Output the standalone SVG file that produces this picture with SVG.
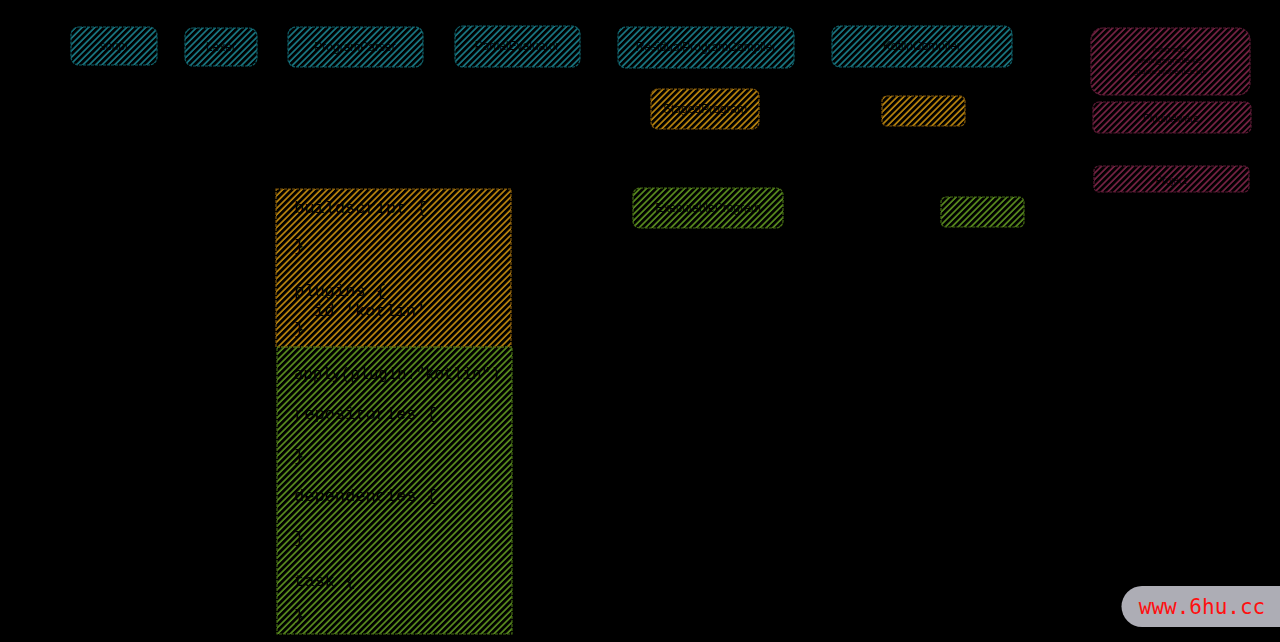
<svg xmlns="http://www.w3.org/2000/svg" width="1280" height="642" viewBox="0 0 1280 642">
<style>
.lbl{font-family:"Liberation Sans",Arial,sans-serif;font-size:12px;fill:#000;text-anchor:middle;dominant-baseline:central}
.code{font-family:"Liberation Mono","DejaVu Sans Mono",monospace;font-size:17px;fill:#000}
.teal{fill:url(#hTeal);stroke:#0f5f68;stroke-width:1.2;stroke-dasharray:3 1}
.orange{fill:url(#hOrange);stroke:#80570a;stroke-width:1.2;stroke-dasharray:3 1}
.green{fill:url(#hGreen);stroke:#446a14;stroke-width:1.2;stroke-dasharray:3 1}
.mag{fill:url(#hMag);stroke:#5a1a34;stroke-width:1.2;stroke-dasharray:3 1}
</style>
<defs>
<pattern id="hTeal" width="4.5" height="4.5" patternUnits="userSpaceOnUse" patternTransform="rotate(45)"><line x1="1" y1="0" x2="1" y2="4.5" stroke="#1a7f8b" stroke-width="1.6"/></pattern>
<pattern id="hOrange" width="4.5" height="4.5" patternUnits="userSpaceOnUse" patternTransform="rotate(45)"><line x1="1" y1="0" x2="1" y2="4.5" stroke="#c48c0e" stroke-width="1.6"/></pattern>
<pattern id="hGreen" width="4.5" height="4.5" patternUnits="userSpaceOnUse" patternTransform="rotate(45)"><line x1="1" y1="0" x2="1" y2="4.5" stroke="#5e9420" stroke-width="1.6"/></pattern>
<pattern id="hMag" width="4.5" height="4.5" patternUnits="userSpaceOnUse" patternTransform="rotate(45)"><line x1="1" y1="0" x2="1" y2="4.5" stroke="#7d2448" stroke-width="1.6"/></pattern>
</defs>
<rect x="0" y="0" width="1280" height="642" fill="#000"/>

<g id="script"><rect class="teal" x="71" y="27" width="86" height="38" rx="8"/><text class="lbl" x="114" y="46">script</text></g>
<g id="lexer"><rect class="teal" x="185" y="28" width="72" height="38" rx="8"/><text class="lbl" x="221" y="47">Lexer</text></g>
<g id="programparser"><rect class="teal" x="288" y="27" width="135" height="40" rx="8"/><text class="lbl" x="355" y="47">ProgramParser</text></g>
<g id="partialevaluator"><rect class="teal" x="455" y="26" width="125" height="41" rx="8"/><text class="lbl" x="517" y="46">PartialEvaluator</text></g>
<g id="residualprogramcompiler"><rect class="teal" x="618" y="27" width="176" height="41" rx="8"/><text class="lbl" x="706" y="47">ResidualProgramCompiler</text></g>
<g id="kotlincompiler"><rect class="teal" x="832" y="26" width="180" height="41" rx="8"/><text class="lbl" x="922" y="46">KotlinCompiler</text></g>

<g id="gradlefiles"><rect class="mag" x="1091" y="28" width="159" height="67" rx="12"/>
<text class="lbl" x="1170" y="49" style="font-size:8px">init.gradle</text>
<text class="lbl" x="1170" y="60" style="font-size:8px">settings.gradle.kts</text>
<text class="lbl" x="1170" y="71" style="font-size:8px">gradle.properties.kts</text></g>
<g id="pluginaware"><rect class="mag" x="1093" y="102" width="158" height="31" rx="6"/><text class="lbl" x="1171" y="118" style="font-size:10px">PluginAware</text></g>
<g id="project"><rect class="mag" x="1094" y="166" width="155" height="26" rx="5"/><text class="lbl" x="1171" y="180" style="font-size:10px">Project</text></g>

<g id="stagedprogram"><rect class="orange" x="651" y="89" width="108" height="40" rx="7"/><text class="lbl" x="705" y="109">StagedProgram</text></g>
<g id="orangebox"><rect class="orange" x="882" y="96" width="83" height="30" rx="5"/></g>
<g id="executableprogram"><rect class="green" x="633" y="188" width="150" height="40" rx="7"/><text class="lbl" x="708" y="208">ExecutableProgram</text></g>
<g id="greenbox"><rect class="green" x="941" y="197" width="83" height="30" rx="5"/></g>

<g id="stage1"><rect class="orange" x="276" y="189" width="235" height="158" rx="0"/>
<text class="code" x="294" y="213">buildscript {</text>
<text class="code" x="294" y="251">}</text>
<text class="code" x="294" y="296">plugins {</text>
<text class="code" x="314" y="316">id 'kotlin'</text>
<text class="code" x="294" y="334">}</text></g>
<g id="stage2"><rect class="green" x="277" y="347" width="235" height="287" rx="0"/>
<text class="code" x="294" y="379" textLength="206" lengthAdjust="spacingAndGlyphs">apply(plugin:"kotlin")</text>
<text class="code" x="294" y="419">repositories {</text>
<text class="code" x="294" y="461">}</text>
<text class="code" x="294" y="501">dependencies {</text>
<text class="code" x="294" y="543">}</text>
<text class="code" x="294" y="586">task {</text>
<text class="code" x="294" y="621">}</text></g>

<g id="connectors"></g>

<g id="watermark"><path d="M1142 586 H1280 V627 H1142 A20.5 20.5 0 0 1 1142 586 Z" fill="#adadb5"/>
<text x="1202" y="614" style="font-family:'DejaVu Sans Mono','Liberation Mono',monospace;font-size:21px;fill:#ff1010;text-anchor:middle">www.6hu.cc</text></g>
</svg>
